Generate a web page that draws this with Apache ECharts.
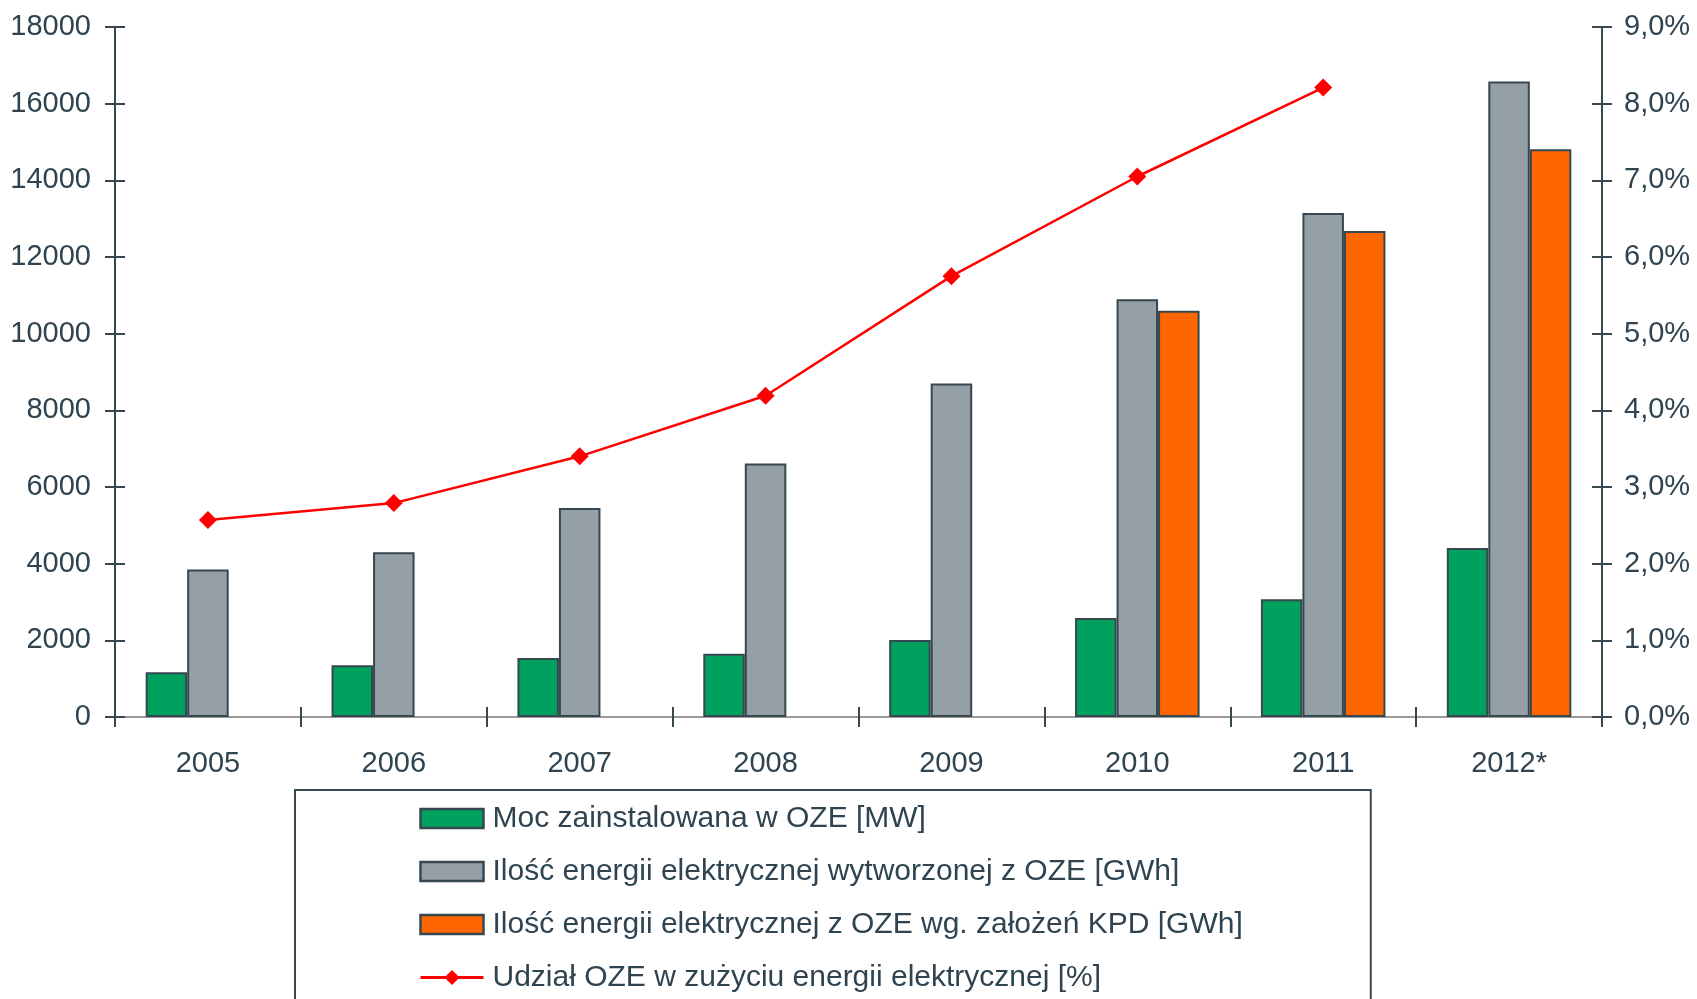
<!DOCTYPE html>
<html>
<head>
<meta charset="utf-8">
<script src="https://cdn.jsdelivr.net/npm/echarts@6/dist/echarts.min.js"></script>
<style>
html,body{margin:0;padding:0;background:#fff;}
#c{width:1697px;height:999px;}
</style>
</head>
<body>
<div id="c"></div>
<script>
const categories = ['2005','2006','2007','2008','2009','2010','2011','2012*'];
const mocZainstalowana = [1170, 1350, 1540, 1650, 2010, 2580, 3070, 4410];
const energiaWytworzona = [3850, 4300, 5450, 6610, 8700, 10900, 13150, 16580];
const energiaKPD = [null, null, null, null, null, 10600, 12680, 14810];
const udzialOZE = [2.57, 2.79, 3.40, 4.19, 5.75, 7.05, 8.21, null];
const leftTicks = {min: 0, max: 18000, interval: 2000};
const rightTicks = {min: 0, max: 9, interval: 1};

const names = [
  'Moc zainstalowana w OZE [MW]',
  'Ilość energii elektrycznej wytworzonej z OZE [GWh]',
  'Ilość energii elektrycznej z OZE wg. założeń KPD [GWh]',
  'Udział OZE w zużyciu energii elektrycznej [%]'
];

const axisColor = '#37474F';
const textColor = '#2F4450';
const font = 'Liberation Sans, Arial, sans-serif';

const chart = echarts.init(document.getElementById('c'));
const barBorder = {borderColor: axisColor, borderWidth: 2};
chart.setOption({
  animation: false,
  backgroundColor: '#fff',
  grid: {left: 115, right: 95, top: 27, bottom: 282, containLabel: false},
  legend: {
    orient: 'vertical',
    left: 295,
    top: 790,
    height: 260,
    padding: [13, 128, 60, 124],
    borderColor: axisColor,
    borderWidth: 2,
    itemWidth: 63,
    itemHeight: 19,
    itemGap: 22,
    itemStyle: {borderColor: axisColor, borderWidth: 2.5},
    textStyle: {fontFamily: font, fontSize: 30, color: textColor, lineHeight: 31, padding: [0,0,0,4]},
    data: [
      {name: names[0], icon: 'rect'},
      {name: names[1], icon: 'rect'},
      {name: names[2], icon: 'rect'},
      {name: names[3], itemStyle: {borderWidth: 0, color: '#FF0000'}, lineStyle: {width: 3}}
    ]
  },
  xAxis: [
    {
      type: 'category', data: categories, position: 'bottom',
      axisLine: {lineStyle: {color: axisColor, width: 2}},
      axisTick: {show: true, length: 10, lineStyle: {color: axisColor, width: 2}},
      axisLabel: {fontFamily: font, fontSize: 29, color: textColor, margin: 32}
    },
    {
      type: 'category', data: categories, position: 'bottom',
      axisLine: {show: false},
      axisTick: {show: true, inside: true, length: 10, lineStyle: {color: axisColor, width: 2}},
      axisLabel: {show: false}
    },
    {
      type: 'category', data: categories, position: 'top',
      axisLine: {lineStyle: {color: '#9a9a9a', width: 2}},
      axisTick: {show: false}, axisLabel: {show: false}
    }
  ],
  yAxis: [
    {
      type: 'value', position: 'left', min: leftTicks.min, max: leftTicks.max, interval: leftTicks.interval,
      splitLine: {show: false},
      axisLine: {show: true, lineStyle: {color: axisColor, width: 2}},
      axisTick: {show: true, length: 10, lineStyle: {color: axisColor, width: 2}},
      axisLabel: {fontFamily: font, fontSize: 29, color: textColor, margin: 24,
        formatter: v => String(v)}
    },
    {
      type: 'value', position: 'right', min: rightTicks.min, max: rightTicks.max, interval: rightTicks.interval,
      splitLine: {show: false},
      axisLine: {show: true, lineStyle: {color: axisColor, width: 2}},
      axisTick: {show: true, length: 10, lineStyle: {color: axisColor, width: 2}},
      axisLabel: {fontFamily: font, fontSize: 29, color: textColor, margin: 22,
        formatter: v => v.toFixed(1).replace('.', ',') + '%'}
    },
    {
      type: 'value', position: 'left', min: leftTicks.min, max: leftTicks.max, interval: leftTicks.interval,
      splitLine: {show: false}, axisLine: {show: false}, axisLabel: {show: false},
      axisTick: {show: true, inside: true, length: 10, lineStyle: {color: axisColor, width: 2}}
    },
    {
      type: 'value', position: 'right', min: rightTicks.min, max: rightTicks.max, interval: rightTicks.interval,
      splitLine: {show: false}, axisLine: {show: false}, axisLabel: {show: false},
      axisTick: {show: true, inside: true, length: 10, lineStyle: {color: axisColor, width: 2}}
    }
  ],
  series: [
    {name: names[0], type: 'bar', data: mocZainstalowana, barGap: '0%', barCategoryGap: '33%',
      itemStyle: Object.assign({color: '#00A05E'}, barBorder)},
    {name: names[1], type: 'bar', data: energiaWytworzona, barGap: '0%', barCategoryGap: '33%',
      itemStyle: Object.assign({color: '#959FA6'}, barBorder)},
    {name: names[2], type: 'bar', data: energiaKPD, barGap: '0%', barCategoryGap: '33%',
      itemStyle: Object.assign({color: '#FF6600'}, barBorder)},
    {name: names[3], type: 'line', yAxisIndex: 1, data: udzialOZE,
      symbol: 'diamond', symbolSize: 18, z: 5,
      lineStyle: {color: '#FF0000', width: 2.5},
      itemStyle: {color: '#FF0000', borderWidth: 0}}
  ]
});
</script>
</body>
</html>
